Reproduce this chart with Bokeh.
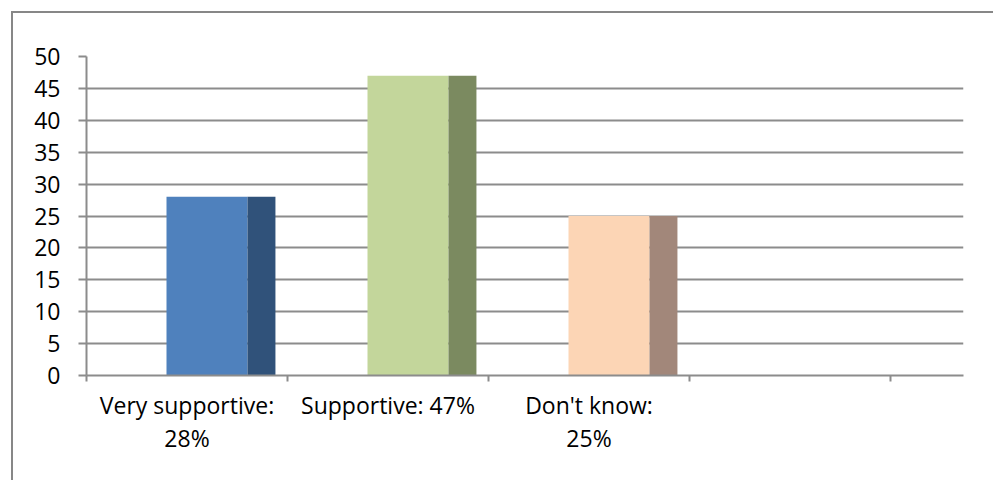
from bokeh.plotting import figure
from bokeh.models import Range1d, FixedTicker
from bokeh.embed import file_html
from bokeh.resources import INLINE

# data
categories = ["Very supportive:\n28%", "Supportive: 47%", "Don't know:\n25%"]
values = [28, 47, 25]
front_colors = ["#4f81bd", "#c3d69b", "#fcd5b5"]
side_colors = ["#30527a", "#7b8a60", "#a2877a"]
y_ticks = [0, 5, 10, 15, 20, 25, 30, 35, 40, 45, 50]
n_slots = 877 / 201

FONT = "Open Sans"
GRID = "#8c8c8c"

idx = list(range(len(categories)))

p = figure(width=993, height=480, output_backend="svg", toolbar_location=None,
           x_range=Range1d(0, n_slots), y_range=Range1d(0, 50),
           min_border_left=86, min_border_right=30, min_border_top=56, min_border_bottom=105)
p.outline_line_color = None
p.background_fill_color = "white"
p.border_fill_color = None
# chart-area border: only its top and left edges fall inside the window
p.styles = {
    "background": ("linear-gradient(#878787, #878787) 11px 11px / 100% 2px no-repeat, "
                   "linear-gradient(#878787, #878787) 11px 11px / 2px 100% no-repeat, white"),
}

# bars: front face and side face
p.quad(left=[i + 0.398 for i in idx], right=[i + 0.801 for i in idx],
       bottom=0, top=values, fill_color=front_colors, line_color=None)
p.quad(left=[i + 0.801 for i in idx], right=[i + 0.940 for i in idx],
       bottom=0, top=values, fill_color=side_colors, line_color=None)

# grid
p.xgrid.grid_line_color = None
p.ygrid.ticker = FixedTicker(ticks=y_ticks)
p.ygrid.grid_line_color = GRID
p.ygrid.grid_line_width = 2

# y axis
ya = p.yaxis[0]
ya.ticker = FixedTicker(ticks=y_ticks)
ya.axis_line_color = GRID
ya.axis_line_width = 2
ya.major_tick_line_color = GRID
ya.major_tick_line_width = 2
ya.major_tick_out = 8
ya.major_tick_in = 0
ya.minor_tick_line_color = None
ya.major_label_standoff = 18
ya.major_label_text_font = FONT
ya.major_label_text_font_size = "23px"
ya.major_label_text_color = "black"

# x axis
xa = p.xaxis[0]
xa.ticker = FixedTicker(ticks=[i + 0.5 for i in idx], minor_ticks=[0, 1, 2, 3, 4])
xa.major_label_overrides = {i + 0.5: c for i, c in zip(idx, categories)}
xa.axis_line_color = GRID
xa.axis_line_width = 2
xa.major_tick_line_color = None
xa.major_tick_out = 6
xa.major_tick_in = 0
xa.minor_tick_line_color = GRID
xa.minor_tick_line_width = 2
xa.minor_tick_out = 6
xa.minor_tick_in = 0
xa.major_label_standoff = 7
xa.major_label_text_font = FONT
xa.major_label_text_font_size = "23px"
xa.major_label_text_color = "black"
xa.major_label_text_line_height = 1.05
xa.major_label_orientation = "horizontal"

open("out.html", "w").write(file_html(p, INLINE))
